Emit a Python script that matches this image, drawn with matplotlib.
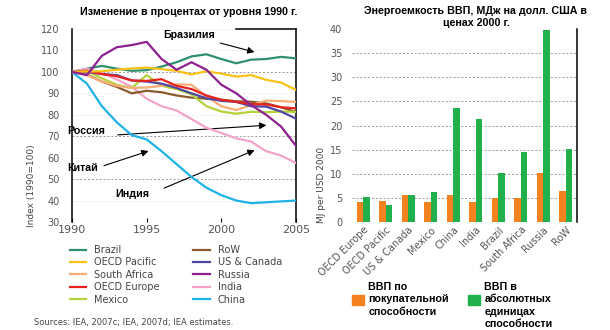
"""
Energy intensity: index vs 1990 by region, and MJ per USD of GDP (PPP vs market rates).
"""

import matplotlib
matplotlib.use('Agg')
import matplotlib.pyplot as plt
from matplotlib.patches import Rectangle

# ── Left panel: energy intensity index, 1990 = 100 ──
years = list(range(1990, 2006))

brazil = [100, 101.5, 102.8, 101.5, 100.5, 100.8, 102.5, 104.5, 107.2, 108.2, 106, 104, 105.7, 106, 107, 106.3]
oecd_pacific = [100, 100.2, 100.3, 101, 101.6, 102, 101.3, 100.5, 98.8, 100.3, 99.2, 97.8, 98.5, 96.3, 95, 91.6]
south_africa = [100, 98.5, 95.5, 93.5, 92.5, 92.7, 93.5, 94.2, 94, 88.5, 84, 82.2, 84.5, 86.6, 86.4, 86]
oecd_europe = [100, 100.5, 99, 98, 96, 95.8, 96.6, 93.5, 92, 89, 87, 86, 85, 84.8, 83.5, 83]
mexico = [100, 100.5, 97, 94, 92.5, 98.5, 93.5, 92, 89.5, 84, 81.5, 80.5, 81.4, 81.2, 81.5, 81.4]
row = [100, 98.8, 95.5, 93, 90, 91.2, 90.5, 89, 88, 87.5, 87, 86.3, 86.1, 85.3, 83.5, 81.3]
us_canada = [100, 100, 99, 98.5, 96, 95.5, 94.5, 92.5, 90, 87.7, 86.5, 86, 84, 83.8, 81.5, 78.2]
russia = [100, 98.5, 107.5, 111.5, 112.5, 114, 106, 101, 104.5, 101, 94, 90, 84.5, 80, 74.5, 65.5]
india = [100, 101.5, 99.5, 96.5, 93, 87.5, 84, 82, 78, 74, 71.5, 69, 67.5, 63, 61, 57.5]
china = [100, 94.5, 84, 76.5, 70.5, 68.5, 63, 57, 51, 46, 42.5, 40, 38.8, 39.2, 39.6, 40]

series = [
    ("Brazil", brazil, "#2f8f6f"),
    ("OECD Pacific", oecd_pacific, "#f7c316"),
    ("South Africa", south_africa, "#f8ae74"),
    ("OECD Europe", oecd_europe, "#e8231f"),
    ("Mexico", mexico, "#b4d23a"),
    ("RoW", row, "#8a5a2c"),
    ("US & Canada", us_canada, "#4d46a3"),
    ("Russia", russia, "#8e2090"),
    ("India", india, "#f2a3c8"),
    ("China", china, "#1eb2e8"),
]
draw_order = ["Brazil", "India", "China", "RoW", "Mexico", "South Africa",
              "US & Canada", "OECD Europe", "OECD Pacific", "Russia"]

# ── Right panel: MJ per USD 2000 ──
regions = ["OECD Europe", "OECD Pacific", "US & Canada", "Mexico", "China",
           "India", "Brazil", "South Africa", "Russia", "RoW"]
gdp_ppp = [4.1, 4.3, 5.6, 4.1, 5.6, 4.1, 5.0, 5.0, 10.1, 6.4]
gdp_mer = [5.2, 3.5, 5.6, 6.2, 23.7, 21.3, 10.1, 14.5, 39.8, 15.1]
bar_labels = ["ВВП по\nпокупательной\nспособности",
              "ВВП в\nабсолютных\nединицах\nспособности"]
bar_colors = ["#f58220", "#21b04b"]

TITLE_FONT = dict(family="Liberation Sans", fontweight="bold", fontsize=7.7)
TICK_GRAY = "#555555"

fig = plt.figure(figsize=(6.1, 3.3), dpi=100)

# ── Left: index lines ──
ax = fig.add_axes([72 / 610, 1 - 222 / 330, 224 / 610, 193 / 330])
handles = {}
for name, vals, color in series:
    (h,) = ax.plot(years, vals, color=color, linewidth=1.6, label=name,
                   zorder=3 + draw_order.index(name) * 0.1)
    handles[name] = h

for lvl in range(40, 121, 10):
    strong = lvl in (100, 70, 50)
    ax.axhline(lvl, color="#999999" if strong else "#f4e6ee", linestyle=(0, (2, 2)),
               linewidth=0.7, zorder=1)

ax.set_xlim(1990, 2005)
ax.set_ylim(30, 120)
ax.set_yticks(range(30, 121, 10))
ax.set_xticks([1990, 1995, 2000, 2005])
ax.tick_params(axis="y", length=0, labelsize=7, labelcolor=TICK_GRAY, pad=9)
ax.tick_params(axis="x", direction="in", length=3, labelsize=8, labelcolor=TICK_GRAY, pad=2)
for s in ("top", "bottom"):
    ax.spines[s].set_visible(False)
for s in ("left", "right"):
    ax.spines[s].set_linewidth(1.1)
ax.axhline(120, xmin=0.73, xmax=1.0, color="black", linewidth=1.1, clip_on=False)
ax.set_ylabel("Index (1990=100)", fontsize=6.5, color="#444444")
ax.yaxis.set_label_coords(-0.16, 0.19)
ax.set_title("Изменение в процентах от уровня 1990 г.", pad=10, x=0.52, **TITLE_FONT)

arrow = dict(arrowstyle="-|>", color="black", linewidth=0.8, mutation_scale=10)
label_font = dict(family="Liberation Sans", fontweight="bold", fontsize=7.7)
ax.annotate("Бразилия", xy=(2002.4, 108.9), xytext=(1996.1, 117.3),
            ha="left", va="center", arrowprops=arrow, **label_font)
ax.annotate("Россия", xy=(2003.2, 75.2), xytext=(1989.7, 72.4),
            ha="left", va="center", arrowprops=dict(arrow, relpos=(1.25, 0.1)),
            annotation_clip=False, **label_font)
ax.annotate("Китай", xy=(1995.3, 63.5), xytext=(1989.7, 55.4),
            ha="left", va="center", arrowprops=dict(arrow, relpos=(1.1, 0.6)),
            annotation_clip=False, **label_font)
ax.annotate("Индия", xy=(2002.4, 64.0), xytext=(1995.2, 43.2),
            ha="right", va="center", arrowprops=dict(arrow, relpos=(1.35, 0.95)),
            **label_font)

leg = ax.legend([handles[n] for n, _, _ in series], [n for n, _, _ in series],
                ncol=2, loc="upper left", bbox_to_anchor=(68 / 610, 1 - 243 / 330),
                bbox_transform=fig.transFigure, frameon=False, fontsize=7,
                handlelength=1.7, handletextpad=0.8, labelspacing=0.25,
                columnspacing=3.45, borderaxespad=0, borderpad=0.2)
for t in leg.get_texts():
    t.set_color("#444444")

fig.text(34 / 610, 1 - 323 / 330, "Sources: IEA, 2007c; IEA, 2007d; IEA estimates.",
         fontsize=6, color="#444444", va="center")

# ── Right: bars ──
bx = fig.add_axes([352 / 610, 1 - 222 / 330, 225 / 610, 193 / 330])
pos = list(range(len(regions)))
w = 0.29
bx.bar([p - w / 2 for p in pos], gdp_ppp, width=w, color=bar_colors[0], zorder=3)
bx.bar([p + w / 2 for p in pos], gdp_mer, width=w, color=bar_colors[1], zorder=3)
bx.set_xlim(-0.5, len(regions) - 0.5)
bx.set_ylim(0, 40)
bx.set_yticks(range(0, 41, 5))
for lvl in range(5, 40, 5):
    bx.axhline(lvl, color="#999999", linestyle=(0, (2, 2)), linewidth=0.7, zorder=1)
bx.set_xticks(pos)
bx.set_xticklabels(regions, rotation=45, ha="right", rotation_mode="anchor")
bx.tick_params(axis="x", length=0, labelsize=7, labelcolor=TICK_GRAY, pad=2)
bx.tick_params(axis="y", length=0, labelsize=7, labelcolor=TICK_GRAY, pad=7)
for s in ("top", "bottom", "left"):
    bx.spines[s].set_visible(False)
bx.spines["right"].set_linewidth(1.1)
bx.set_ylabel("MJ per USD 2000", fontsize=6.5, color="#444444")
bx.yaxis.set_label_coords(-0.115, 0.19)
fig.text(476 / 610, 1 - 6 / 330, "Энергоемкость ВВП, МДж на долл. США в\nценах 2000 г.",
         ha="center", va="top", linespacing=1.3, **TITLE_FONT)

# bar legend: swatch beside the second text line, text hanging from the top
for i, (lbl, col) in enumerate(zip(bar_labels, bar_colors)):
    x0 = (352 + 116 * i) / 610
    fig.patches.append(Rectangle((x0, 1 - 305 / 330), 11.5 / 610, 10 / 330,
                                 transform=fig.transFigure, color=col))
    fig.text(x0 + 16.5 / 610, 1 - 282 / 330, lbl, ha="left", va="top",
             linespacing=1.3, **label_font)

fig.savefig("out.png", dpi=100)
